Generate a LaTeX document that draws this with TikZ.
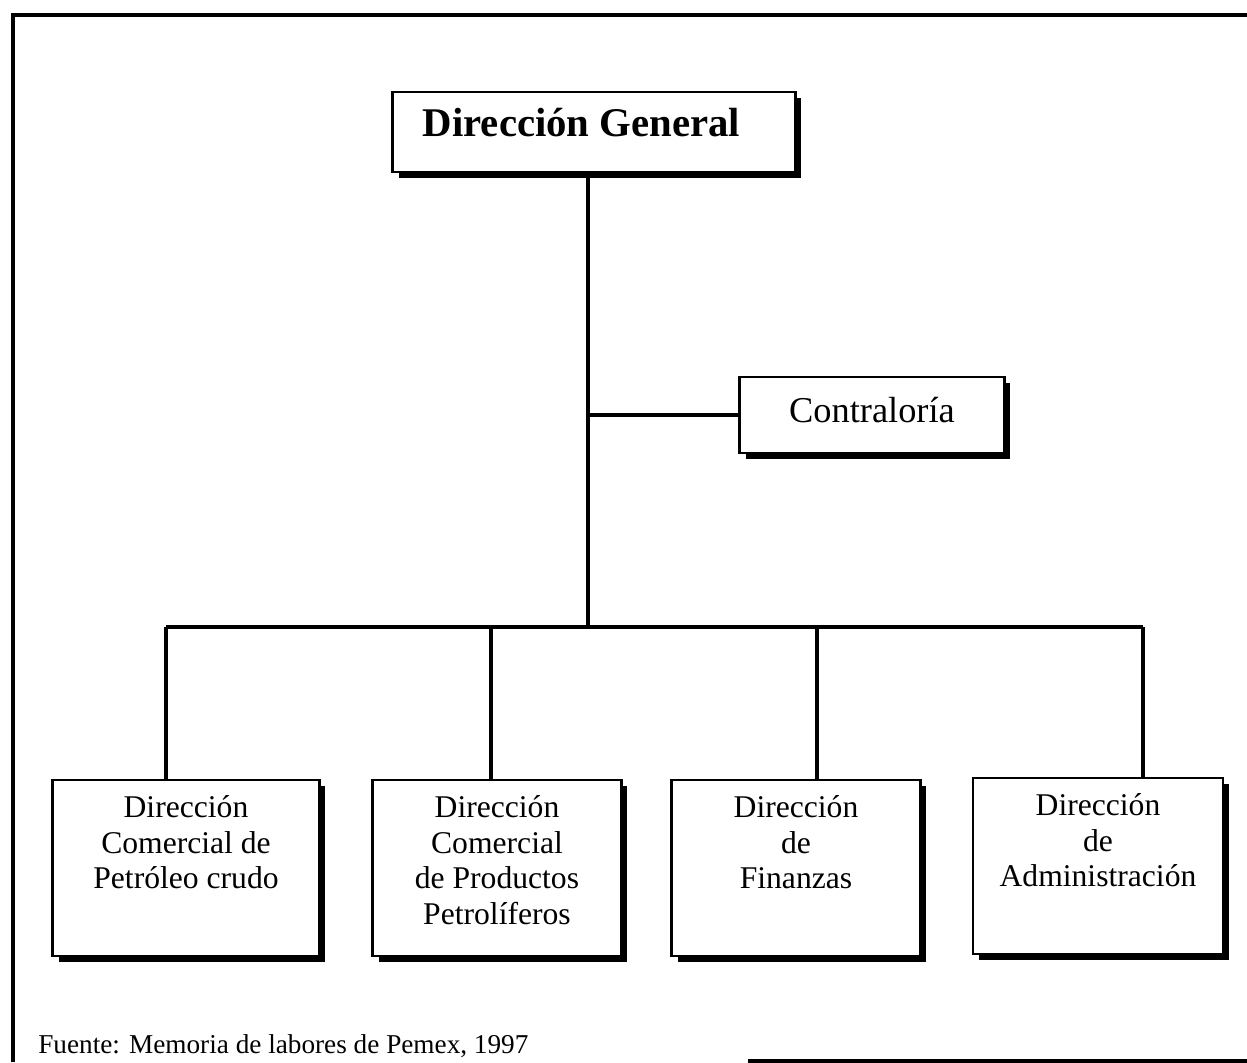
\documentclass[tikz,border=0pt]{standalone}
\usepackage{fontspec}
\setmainfont{Liberation Serif}
\usetikzlibrary{positioning,shadows,calc}

\newcommand{\lowtext}[1]{\parbox[t][2.9cm][t]{4.8cm}{\centering #1}}

\begin{document}
\begin{tikzpicture}[
  x=0.02cm, y=-0.02cm,
  box/.style={draw, fill=white, rectangle, line width=1.3pt,
    drop shadow={shadow xshift=1.2mm, shadow yshift=-1.2mm, opacity=1, fill=black}},
  lowbox/.style={box, anchor=north, minimum height=3.52cm, inner ysep=0.31cm, inner xsep=0pt,
    font=\fontsize{18}{20.3}\selectfont},
  conline/.style={line width=2.1pt},
  frame/.style={line width=2.4pt},
]
\useasboundingbox (0,0) rectangle (1247,1062);
% page frame
\draw[frame] (1247,15) -- (13,15) -- (13,1062);
\draw[frame] (748,1061) -- (1247,1061);

\node[box, minimum width=8.06cm, minimum height=1.6cm, text depth=0.4cm,
  font=\fontsize{23.2}{27}\selectfont\bfseries] (dg) at (594,132) {Dirección General\hspace*{0.5cm}};
\node[box, minimum width=5.3cm, minimum height=1.52cm, text depth=0.2cm,
  font=\fontsize{20.7}{24}\selectfont] (contra) at (872,415) {Contraloría};

\node[lowbox, minimum width=5.34cm] (crudo) at (186,779) {\lowtext{Dirección\\ Comercial de\\ Petróleo crudo}};
\node[lowbox, minimum width=4.98cm] (petrol) at (497,779) {\lowtext{Dirección\\ Comercial\\ de Productos\\ Petrolíferos}};
\node[lowbox, minimum width=4.98cm] (finan) at (796,779) {\lowtext{Dirección\\ de\\ Finanzas}};
\node[lowbox, minimum width=5cm] (admin) at (1098,777) {\lowtext{Dirección\\ de\\ Administración}};

\node[anchor=west, inner sep=0pt, font=\fontsize{15.5}{18}\selectfont] (fuente) at (38,1046)
  {Fuente: Memoria de labores de Pemex, 1997};

% bus line
\coordinate (trunk) at (588,627);
\foreach \i/\x in {1/166,2/491,3/817,4/1143}
  \coordinate (bus\i) at (\x,627);

\draw[conline] (dg.south -| trunk) -- (trunk);
\draw[conline] (trunk |- contra.west) -- (contra.west);
\draw[conline] (bus1) -- (bus4);
\draw[conline] (bus1) -- (bus1 |- crudo.north);
\draw[conline] (bus2) -- (bus2 |- petrol.north);
\draw[conline] (bus3) -- (bus3 |- finan.north);
\draw[conline] (bus4) -- (bus4 |- admin.north);
\end{tikzpicture}
\end{document}
